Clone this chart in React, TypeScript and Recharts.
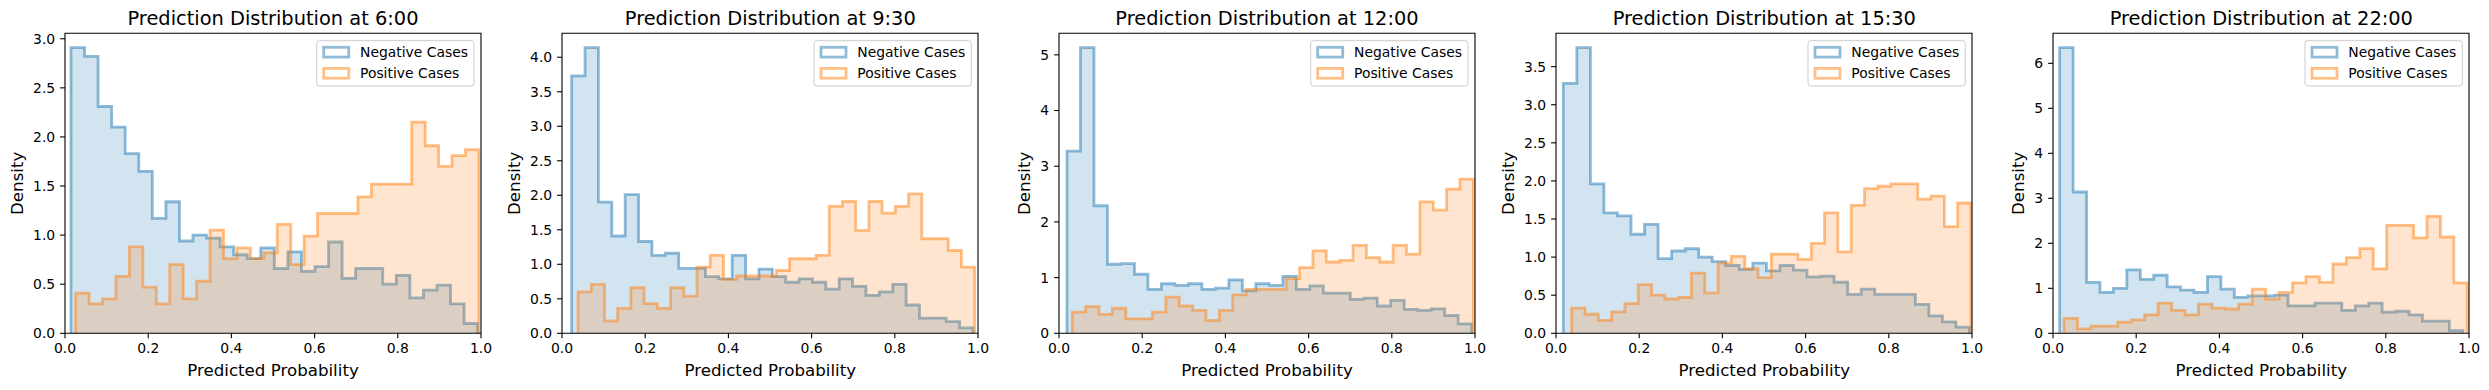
import React from "react";
import { AreaChart, Area, XAxis, YAxis, ReferenceArea } from "recharts";

// histogram densities, 30 bins per series
const times = ["6:00", "9:30", "12:00", "15:30", "22:00"];

const neg0600 = [2.91, 2.82, 2.31, 2.1, 1.83, 1.65, 1.17, 1.34, 0.94, 1.0, 0.97, 0.88, 0.8, 0.76, 0.87, 0.66, 0.83, 0.63, 0.68, 0.93, 0.56, 0.66, 0.66, 0.5, 0.59, 0.36, 0.44, 0.49, 0.3, 0.1];
const pos0600 = [0.41, 0.3, 0.35, 0.58, 0.88, 0.47, 0.3, 0.7, 0.35, 0.53, 1.05, 0.76, 0.87, 0.76, 0.82, 1.11, 0.7, 0.99, 1.22, 1.22, 1.22, 1.39, 1.52, 1.52, 1.52, 2.15, 1.91, 1.7, 1.81, 1.87];
const neg0930 = [3.73, 4.14, 1.9, 1.41, 2.01, 1.33, 1.13, 1.16, 0.94, 0.94, 0.82, 0.79, 1.13, 0.79, 0.93, 0.82, 0.74, 0.79, 0.74, 0.64, 0.79, 0.68, 0.55, 0.6, 0.71, 0.41, 0.22, 0.22, 0.17, 0.08];
const pos0930 = [0.6, 0.71, 0.18, 0.36, 0.66, 0.43, 0.36, 0.66, 0.54, 0.96, 1.13, 0.78, 0.83, 0.83, 0.83, 0.91, 1.08, 1.08, 1.13, 1.84, 1.91, 1.49, 1.91, 1.74, 1.84, 2.02, 1.37, 1.37, 1.2, 0.96];
const neg1200 = [3.27, 5.13, 2.29, 1.24, 1.25, 1.06, 0.79, 0.89, 0.86, 0.89, 0.79, 0.81, 0.96, 0.76, 0.89, 0.86, 1.02, 0.79, 0.85, 0.72, 0.72, 0.61, 0.63, 0.49, 0.59, 0.43, 0.41, 0.44, 0.32, 0.17];
const pos1200 = [0.38, 0.48, 0.34, 0.45, 0.26, 0.26, 0.38, 0.65, 0.49, 0.41, 0.23, 0.41, 0.69, 0.79, 0.79, 0.79, 0.98, 1.18, 1.48, 1.28, 1.31, 1.58, 1.36, 1.28, 1.58, 1.42, 2.36, 2.21, 2.59, 2.77];
const neg1530 = [3.28, 3.75, 1.96, 1.58, 1.54, 1.3, 1.43, 0.98, 1.08, 1.11, 1.0, 0.94, 0.89, 0.84, 0.92, 0.82, 0.89, 0.83, 0.74, 0.75, 0.67, 0.51, 0.58, 0.51, 0.51, 0.51, 0.38, 0.23, 0.15, 0.08];
const pos1530 = [0.33, 0.25, 0.17, 0.28, 0.39, 0.64, 0.5, 0.45, 0.47, 0.79, 0.53, 0.92, 1.01, 0.85, 0.73, 1.04, 1.04, 0.97, 1.18, 1.58, 1.07, 1.68, 1.9, 1.93, 1.96, 1.96, 1.76, 1.8, 1.4, 1.71];
const neg2200 = [6.35, 3.14, 1.13, 0.91, 1.0, 1.41, 1.2, 1.29, 1.03, 0.96, 0.91, 1.26, 0.98, 0.8, 0.83, 0.83, 0.85, 0.61, 0.61, 0.67, 0.67, 0.51, 0.61, 0.67, 0.47, 0.49, 0.41, 0.27, 0.27, 0.06];
const pos2200 = [0.33, 0.1, 0.16, 0.16, 0.25, 0.3, 0.41, 0.67, 0.51, 0.41, 0.65, 0.56, 0.54, 0.65, 0.98, 0.76, 0.91, 1.12, 1.26, 1.13, 1.54, 1.68, 1.88, 1.43, 2.4, 2.4, 2.12, 2.6, 2.14, 1.12];

// [min, max] of the predictions in each series (histogram range)
const negRanges = [[0.0144, 0.992], [0.0232, 0.988], [0.0192, 0.992], [0.0176, 0.994], [0.016, 0.985]];
const posRanges = [[0.0256, 0.995], [0.0385, 0.992], [0.032, 0.996], [0.0377, 0.9976], [0.0265, 0.996]];

const xTicks = [0, 0.2, 0.4, 0.6, 0.8, 1.0];
const yTicks0600 = [0, 0.5, 1, 1.5, 2, 2.5, 3];
const yTicks0930 = [0, 0.5, 1, 1.5, 2, 2.5, 3, 3.5, 4];
const yTicks1200 = [0, 1, 2, 3, 4, 5];
const yTicks1530 = [0, 0.5, 1, 1.5, 2, 2.5, 3, 3.5];
const yTicks2200 = [0, 1, 2, 3, 4, 5, 6];

const negSeries = [neg0600, neg0930, neg1200, neg1530, neg2200];
const posSeries = [pos0600, pos0930, pos1200, pos1530, pos2200];
const yTickSets = [yTicks0600, yTicks0930, yTicks1200, yTicks1530, yTicks2200];
const yDecimals = [1, 1, 0, 1, 0];

const BLUE = "#1f77b4";
const ORANGE = "#ff7f0e";
const FONT = "DejaVu Sans";

const W = 2489;
const H = 390;
const AX_LEFT = [65, 562.3, 1059, 1556.3, 2053.3];
const AX_W = 416;
const AX_TOP = 33.3;
const AX_BOT = 333.3;
const Y_W = 60;
const X_H = 30;
const R_PAD = 20;

function stepPoints(vals: number[], range: number[]) {
  const [lo, hi] = range;
  const w = (hi - lo) / vals.length;
  const pts = [{ x: lo, y: 0 }];
  vals.forEach((v, i) => pts.push({ x: lo + i * w, y: v }));
  pts.push({ x: hi, y: vals[vals.length - 1] });
  pts.push({ x: hi, y: 0 });
  return pts;
}

function Panel({ idx }: { idx: number }) {
  const neg = negSeries[idx];
  const pos = posSeries[idx];
  const yMax = Math.max(...neg, ...pos) * 1.05;
  const dec = yDecimals[idx];
  const tickStyle = { fill: "#000", fontSize: 13.9, fontFamily: FONT };
  return (
    <div style={{ position: "absolute", left: AX_LEFT[idx] - Y_W, top: 0 }}>
      <AreaChart
        width={Y_W + AX_W + R_PAD}
        height={H}
        margin={{ top: AX_TOP, right: R_PAD, bottom: H - AX_BOT - X_H, left: 0 }}
      >
        <XAxis
          type="number"
          dataKey="x"
          domain={[0, 1]}
          ticks={xTicks}
          interval={0}
          allowDataOverflow
          tickFormatter={(v: number) => v.toFixed(1)}
          height={X_H}
          axisLine={false}
          tickSize={4.9}
          tickMargin={4.6}
          tickLine={{ stroke: "#000", strokeWidth: 1.1 }}
          tick={tickStyle}
        />
        <YAxis
          type="number"
          domain={[0, yMax]}
          ticks={yTickSets[idx]}
          interval={0}
          allowDataOverflow
          tickFormatter={(v: number) => v.toFixed(dec)}
          width={Y_W}
          axisLine={false}
          tickSize={4.9}
          tickMargin={4.9}
          tickLine={{ stroke: "#000", strokeWidth: 1.1 }}
          tick={tickStyle}
        />
        <Area
          data={stepPoints(neg, negRanges[idx])}
          dataKey="y"
          type="stepAfter"
          fill={BLUE}
          fillOpacity={0.2}
          stroke={BLUE}
          strokeOpacity={0.5}
          strokeWidth={2.8}
          strokeLinejoin="miter"
          dot={false}
          activeDot={false}
          isAnimationActive={false}
        />
        <Area
          data={stepPoints(pos, posRanges[idx])}
          dataKey="y"
          type="stepAfter"
          fill={ORANGE}
          fillOpacity={0.2}
          stroke={ORANGE}
          strokeOpacity={0.5}
          strokeWidth={2.8}
          strokeLinejoin="miter"
          dot={false}
          activeDot={false}
          isAnimationActive={false}
        />
        <ReferenceArea x1={0} x2={1} y1={0} y2={yMax} fill="none" stroke="#000" strokeWidth={1.1} ifOverflow="visible" />
      </AreaChart>
    </div>
  );
}

function Overlay() {
  return (
    <svg width={W} height={H} style={{ position: "absolute", left: 0, top: 0, pointerEvents: "none" }}>
      {times.map((t, i) => {
        const left = AX_LEFT[i];
        const cx = left + AX_W / 2;
        const cy = (AX_TOP + AX_BOT) / 2;
        const yl = left + (yDecimals[i] === 0 ? -29 : -42);
        const fx = left + AX_W - 7 - 157.3;
        const fy = AX_TOP + 7.4;
        return (
          <g key={t} fontFamily={FONT} fill="#000">
            <text x={cx} y={25.2} fontSize={19.4} textAnchor="middle">
              {`Prediction Distribution at ${t}`}
            </text>
            <text x={cx} y={375.5} fontSize={16.67} textAnchor="middle">
              Predicted Probability
            </text>
            <text x={yl} y={cy} fontSize={16.67} textAnchor="middle" transform={`rotate(-90 ${yl} ${cy})`}>
              Density
            </text>
            <rect x={fx} y={fy} width={157.3} height={45.3} rx={2.8} fill="#fff" fillOpacity={0.8} stroke="#ccc" strokeWidth={1} />
            <rect x={fx + 7} y={fy + 11.5 - 4.9} width={25} height={9.8} fill="none" stroke={BLUE} strokeOpacity={0.5} strokeWidth={2.8} />
            <rect x={fx + 7} y={fy + 32.6 - 4.9} width={25} height={9.8} fill="none" stroke={ORANGE} strokeOpacity={0.5} strokeWidth={2.8} />
            <text x={fx + 43.3} y={fy + 16.5} fontSize={13.9}>Negative Cases</text>
            <text x={fx + 43.3} y={fy + 37.6} fontSize={13.9}>Positive Cases</text>
          </g>
        );
      })}
    </svg>
  );
}

export default function App() {
  return (
    <div style={{ position: "absolute", left: 0, top: 0, width: W, height: H, background: "#fff", overflow: "hidden" }}>
      {times.map((t, i) => (
        <Panel key={t} idx={i} />
      ))}
      <Overlay />
    </div>
  );
}
